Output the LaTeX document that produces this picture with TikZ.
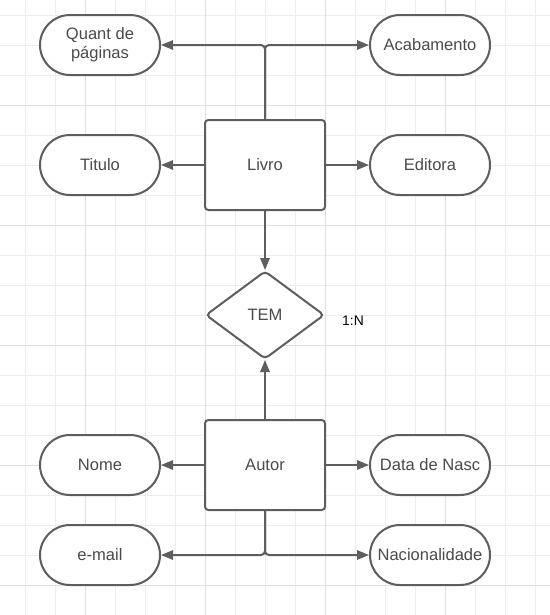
\documentclass[tikz,border=0pt]{standalone}
\usepackage{fontspec}
\setmainfont{Liberation Sans}
\usetikzlibrary{arrows.meta,shapes.geometric}

\definecolor{linegray}{HTML}{5E5E5E}
\definecolor{txtgray}{HTML}{4A4A4A}
\definecolor{gridminor}{HTML}{EDEDED}
\definecolor{gridmajor}{HTML}{E0E0E0}

\begin{document}
\begin{tikzpicture}[x=0.75pt,y=-0.75pt,
  every node/.style={font=\fontsize{12.4}{14.5}\selectfont, text=txtgray},
  attr/.style={draw=linegray, fill=white, line width=1.5pt, rectangle, rounded corners=22.5pt,
    minimum width=90pt, minimum height=45pt, inner sep=0pt, align=center},
  entity/.style={draw=linegray, fill=white, line width=1.5pt, rectangle, rounded corners=2.5pt,
    minimum width=90pt, minimum height=67.5pt},
  rel/.style={draw=linegray, fill=white, line width=1.5pt, diamond, rounded corners=3pt,
    minimum width=89pt, minimum height=66pt, inner sep=0pt},
  link/.style={draw=linegray, line width=1.5pt, -{Triangle[length=9pt,width=7pt]},
    rounded corners=3pt}]

\useasboundingbox (0,0) rectangle (550,615);

% Background grid, darker every fourth line.
\foreach \x in {25,55,...,535} \draw[gridminor, line width=0.75pt] (\x,0) -- (\x,615);
\foreach \y in {15,45,...,605} \draw[gridminor, line width=0.75pt] (0,\y) -- (550,\y);
\foreach \x in {85,205,325,445} \draw[gridmajor, line width=0.75pt] (\x,0) -- (\x,615);
\foreach \y in {105,225,345,465,585} \draw[gridmajor, line width=0.75pt] (0,\y) -- (550,\y);

% Entities and relationship.
\node[entity] (livro) at (265,165) {Livro};
\node[rel] (tem) at (265,315) {TEM};
\node[entity] (autor) at (265,465) {Autor};
\node[text=black, font=\fontsize{10.4}{12}\selectfont] (card) at (353,321) {1:N};

% Attributes of Livro.
\node[attr] (quant) at (100,45) {Quant de\\p\'aginas};
\node[attr] (acab) at (430,45) {Acabamento};
\node[attr] (titulo) at (100,165) {Titulo};
\node[attr] (editora) at (430,165) {Editora};

% Attributes of Autor.
\node[attr] (nome) at (100,465) {Nome};
\node[attr] (datanasc) at (430,465) {Data de Nasc};
\node[attr] (email) at (100,555) {e-mail};
\node[attr] (nacio) at (430,555) {Nacionalidade};

% Connectors.
\draw[link] (livro.north) |- (quant.east);
\draw[link] (livro.north) |- (acab.west);
\draw[link] (livro.west) -- (titulo.east);
\draw[link] (livro.east) -- (editora.west);
\draw[link] (livro.south) -- (tem.north);

\draw[link] (autor.north) -- (tem.south);
\draw[link] (autor.west) -- (nome.east);
\draw[link] (autor.east) -- (datanasc.west);
\draw[link] (autor.south) |- (email.east);
\draw[link] (autor.south) |- (nacio.west);

\end{tikzpicture}
\end{document}
